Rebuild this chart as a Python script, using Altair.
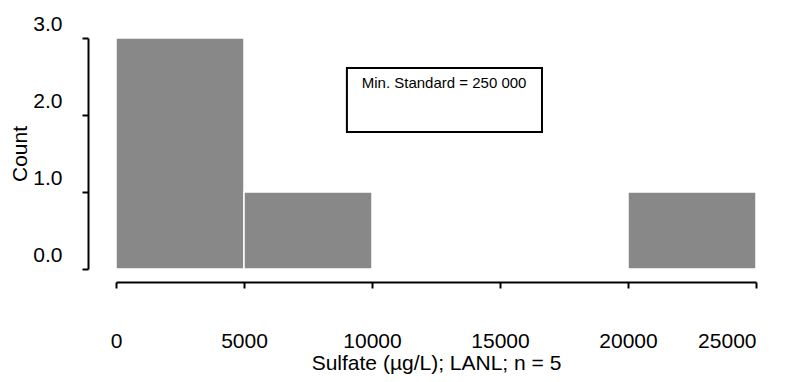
import altair as alt
import pandas as pd

# Histogram bins (µg/L) and counts
bin_start = [0, 5000, 20000]
bin_end = [5000, 10000, 25000]
counts = [3, 1, 1]

x_ticks = [0, 5000, 10000, 15000, 20000, 25000]
y_ticks = [0, 0.5, 1, 1.5, 2, 2.5, 3]

note_text = ["Min. Standard = 250 000"]
box_x = [9020]
box_x2 = [16640]
box_y = [2.61]
box_y2 = [1.78]
text_x = [9600]
text_y = [2.42]

FONT = "Liberation Sans"

bars_df = pd.DataFrame({"start": bin_start, "end": bin_end, "count": counts})
box_df = pd.DataFrame({"x": box_x, "x2": box_x2, "y": box_y, "y2": box_y2})
text_df = pd.DataFrame({"x": text_x, "y": text_y, "label": note_text})

xscale = alt.Scale(domain=[0, 25000], nice=False, zero=False)
yscale = alt.Scale(domain=[0, 3], nice=False)

bars = alt.Chart(bars_df).mark_bar(
    color="#888888", stroke="white", strokeWidth=1.5
).encode(
    x=alt.X("start:Q", scale=xscale,
            axis=alt.Axis(values=x_ticks, format="d", title="Sulfate (\u00b5g/L); LANL; n = 5",
                          offset=13, tickSize=6, labelPadding=42, titlePadding=1,
                          labelFontSize=21, titleFontSize=21, titleFontWeight="normal",
                          labelFont=FONT, titleFont=FONT, labelColor="black", titleColor="black",
                          domainColor="black", tickColor="black", domainWidth=2, tickWidth=2,
                          grid=False, labelFlush=False,
                          labelAlign={"condition": {"test": "datum.value == 25000", "value": "right"},
                                      "value": "center"})),
    x2="end:Q",
    y=alt.Y("count:Q", scale=yscale,
            axis=alt.Axis(values=y_ticks, title="Count",
                          labelExpr="datum.value % 1 == 0 ? format(datum.value, '.1f') : ''",
                          offset=28, tickSize=6, labelPadding=20, labelOffset=-14, titlePadding=2,
                          labelFontSize=21, titleFontSize=21, titleFontWeight="normal",
                          labelFont=FONT, titleFont=FONT, labelColor="black", titleColor="black",
                          domainColor="black", tickColor="black", domainWidth=2, tickWidth=2,
                          grid=False, labelFlush=False)),
    y2=alt.Y2(datum=0),
)

box = alt.Chart(box_df).mark_rect(
    fill="white", stroke="black", strokeWidth=2
).encode(
    x=alt.X("x:Q", scale=xscale), x2="x2:Q",
    y=alt.Y("y:Q", scale=yscale), y2="y2:Q",
)

text = alt.Chart(text_df).mark_text(
    align="left", baseline="middle", fontSize=15, font=FONT, color="black"
).encode(
    x=alt.X("x:Q", scale=xscale),
    y=alt.Y("y:Q", scale=yscale),
    text="label:N",
)

chart = alt.layer(bars, box, text).properties(
    width=640, height=231,
    autosize=alt.AutoSizeParams(type="none"),
    padding={"left": 108, "top": 30, "right": 26, "bottom": 105},
    background="white",
).configure_view(stroke=None)

chart.save("out.html", embed_options={"renderer": "svg", "actions": False})
